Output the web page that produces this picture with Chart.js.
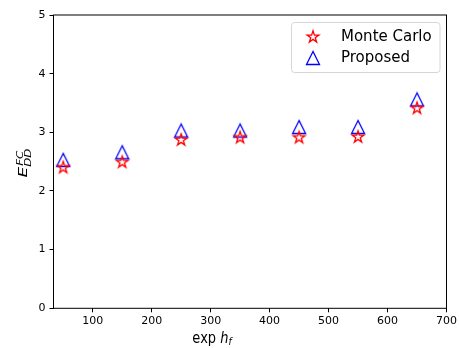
<!DOCTYPE html>
<html>
<head>
<meta charset="utf-8">
<script src="https://cdn.jsdelivr.net/npm/chart.js@4"></script>
<style>
  html, body { margin: 0; padding: 0; background: #fff; }
  #wrap { width: 459px; height: 348px; }
</style>
</head>
<body>
<div id="wrap"><canvas id="c" width="459" height="348"></canvas></div>
<script>
// Experiment settings (horizontal axis) and measured error for each method
const expH = [50, 150, 250, 350, 450, 550, 650];
const monteCarlo = [2.40, 2.49, 2.87, 2.91, 2.91, 2.92, 3.41];
const proposed = [2.53, 2.66, 3.03, 3.03, 3.09, 3.09, 3.56];
const xTickValues = [100, 200, 300, 400, 500, 600, 700];
const yTickValues = [0, 1, 2, 3, 4, 5];
const seriesNames = ['Monte Carlo', 'Proposed'];

const FONT = '"DejaVu Sans", "Liberation Sans", sans-serif';

// Hollow marker sprites: five-point star and upward triangle
function starSprite(color, r) {
  const s = Math.ceil(r) * 2 + 4;
  const cv = document.createElement('canvas');
  cv.width = s; cv.height = s;
  const g = cv.getContext('2d');
  const c = s / 2;
  const inner = r * 0.381966;
  g.beginPath();
  for (let i = 0; i < 10; i++) {
    const rad = (i % 2 === 0) ? r : inner;
    const a = -Math.PI / 2 + i * Math.PI / 5;
    const px = c + rad * Math.cos(a), py = c + rad * Math.sin(a);
    if (i === 0) g.moveTo(px, py); else g.lineTo(px, py);
  }
  g.closePath();
  g.strokeStyle = color; g.lineWidth = 1.3; g.lineJoin = 'miter';
  g.stroke();
  return cv;
}
function triangleSprite(color, h) {
  const s = Math.ceil(h) * 2 + 4;
  const cv = document.createElement('canvas');
  cv.width = s; cv.height = s;
  const g = cv.getContext('2d');
  const c = s / 2;
  g.beginPath();
  g.moveTo(c, c - h);
  g.lineTo(c - h, c + h);
  g.lineTo(c + h, c + h);
  g.closePath();
  g.strokeStyle = color; g.lineWidth = 1.3; g.lineJoin = 'miter';
  g.stroke();
  return cv;
}

const starImg = starSprite('#ff0000', 6.2);
const triImg = triangleSprite('#0000ff', 6.5);

// Frame, axis titles and legend box
const decor = {
  id: 'decor',
  afterDraw(chart) {
    const ctx = chart.ctx;
    const a = chart.chartArea;
    ctx.save();
    ctx.strokeStyle = '#000';
    ctx.lineWidth = 1;
    ctx.strokeRect(a.left, a.top, a.right - a.left, a.bottom - a.top);

    // x title: exp h_f
    ctx.fillStyle = '#000';
    ctx.textBaseline = 'alphabetic';
    const xs = 13;
    ctx.font = xs + 'px ' + FONT;
    const w1 = ctx.measureText('exp ').width;
    ctx.font = 'italic ' + xs + 'px ' + FONT;
    const w2 = ctx.measureText('h').width;
    ctx.font = 'italic ' + (xs * 0.7) + 'px ' + FONT;
    const w3 = ctx.measureText('f').width;
    ctx.save();
    ctx.translate(212 - (w1 + w2 + w3) / 2, 342.5);
    ctx.scale(1, 1.2);
    ctx.font = xs + 'px ' + FONT;
    ctx.fillText('exp ', 0, 0);
    ctx.font = 'italic ' + xs + 'px ' + FONT;
    ctx.fillText('h', w1, 0);
    ctx.font = 'italic ' + (xs * 0.7) + 'px ' + FONT;
    ctx.fillText('f', w1 + w2, 2);
    ctx.restore();

    // y title: E^{FC}_{DD}
    const ys = 12.5;
    ctx.save();
    ctx.translate(26.7, 163);
    ctx.rotate(-Math.PI / 2);
    ctx.scale(1.35, 1);
    ctx.font = 'italic ' + ys + 'px ' + FONT;
    const we = ctx.measureText('E').width;
    ctx.font = 'italic ' + (ys * 0.7) + 'px ' + FONT;
    const wsup = ctx.measureText('FC').width;
    const wsub = ctx.measureText('DD').width;
    const tot = we + Math.max(wsup, wsub);
    const lx = -tot / 2;
    ctx.font = 'italic ' + ys + 'px ' + FONT;
    ctx.fillText('E', lx, 0);
    ctx.font = 'italic ' + (ys * 0.7) + 'px ' + FONT;
    ctx.fillText('FC', lx + we + 0.8, -3.4);
    ctx.fillText('DD', lx + we, 4.3);
    ctx.restore();

    // legend
    const bx = 291.5, byy = 22.5, bw = 148.5, bh = 50;
    ctx.beginPath();
    ctx.roundRect(bx, byy, bw, bh, 3);
    ctx.fillStyle = 'rgba(255,255,255,0.8)';
    ctx.fill();
    ctx.strokeStyle = '#d6d6d6';
    ctx.lineWidth = 1;
    ctx.stroke();
    const imgs = [starImg, triImg];
    const rows = [37, 58];
    ctx.font = '15px ' + FONT;
    ctx.fillStyle = '#000';
    ctx.textBaseline = 'middle';
    for (let i = 0; i < 2; i++) {
      const im = imgs[i];
      ctx.drawImage(im, 313 - im.width / 2, rows[i] - im.height / 2);
      ctx.fillText(seriesNames[i], 341, rows[i] + 0.5);
    }
    ctx.restore();
  }
};

new Chart(document.getElementById('c'), {
  type: 'scatter',
  data: {
    datasets: [
      {
        label: seriesNames[0],
        data: expH.map((x, i) => ({ x: x, y: monteCarlo[i] })),
        pointStyle: starImg,
        pointRadius: 7,
        borderColor: '#ff0000',
        backgroundColor: 'transparent'
      },
      {
        label: seriesNames[1],
        data: expH.map((x, i) => ({ x: x, y: proposed[i] })),
        pointStyle: triImg,
        pointRadius: 7,
        borderColor: '#0000ff',
        backgroundColor: 'transparent'
      }
    ]
  },
  options: {
    responsive: false,
    animation: false,
    events: [],
    layout: { padding: { top: 15, right: 12, left: 0, bottom: 0 } },
    plugins: { legend: { display: false }, tooltip: { enabled: false } },
    scales: {
      x: {
        type: 'linear',
        min: 33.5,
        max: 700,
        afterBuildTicks(scale) { scale.ticks = xTickValues.map(v => ({ value: v })); },
        afterFit(scale) { scale.height = 39.7; },
        border: { display: false },
        grid: { drawOnChartArea: false, drawTicks: true, tickLength: 4, color: '#000', lineWidth: 1 },
        ticks: { color: '#000', font: { family: FONT, size: 11 }, padding: 2, maxRotation: 0, autoSkip: false }
      },
      y: {
        type: 'linear',
        min: 0,
        max: 5,
        afterBuildTicks(scale) { scale.ticks = yTickValues.map(v => ({ value: v })); },
        afterFit(scale) { scale.width = 53.5; },
        border: { display: false },
        grid: { drawOnChartArea: false, drawTicks: true, tickLength: 4, color: '#000', lineWidth: 1 },
        ticks: { color: '#000', font: { family: FONT, size: 11 }, padding: 4, autoSkip: false }
      }
    }
  },
  plugins: [decor]
});
</script>
</body>
</html>
